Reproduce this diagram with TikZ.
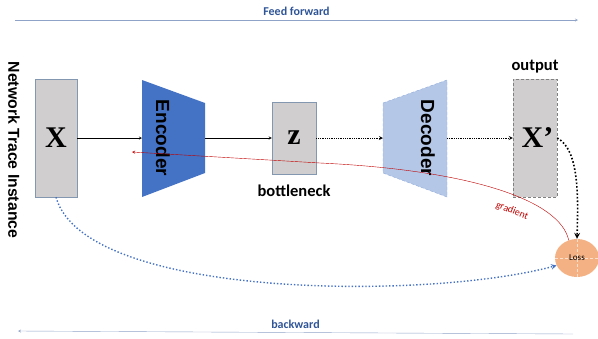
\documentclass[tikz,border=0pt]{standalone}
\usepackage{fontspec}
\setmainfont{Carlito}
\newfontfamily\armfont{Liberation Sans}
\newfontfamily\timesfont{Liberation Serif}
\usetikzlibrary{shapes.geometric}
\definecolor{boxgray}{HTML}{D0CECE}
\definecolor{boxedge}{HTML}{8497B0}
\definecolor{encblue}{HTML}{4472C4}
\definecolor{decblue}{HTML}{B4C7E7}
\definecolor{lossorange}{HTML}{F4B183}
\definecolor{flowtext}{HTML}{2F5597}
\definecolor{flowline}{HTML}{8FA3C8}
\definecolor{gradred}{HTML}{C00000}
\tikzset{
  vecbox/.style={draw=boxedge, fill=boxgray, minimum width=42pt, inner sep=0pt,
    font=\timesfont\bfseries\fontsize{30}{30}\selectfont},
  coderlabel/.style={rotate=-90, font=\armfont\bfseries\fontsize{19}{19}\selectfont},
  sidelabel/.style={font=\bfseries\fontsize{16.5}{16.5}\selectfont},
  flowlabel/.style={font=\bfseries\fontsize{12}{12}\selectfont, text=flowtext},
}
\begin{document}
\begin{tikzpicture}[x=1pt, y=-1pt, >=stealth]
\useasboundingbox (0,0) rectangle (598,338);
% feed forward / backward
\coordinate (ffL) at (15,20);
\coordinate (ffR) at (578,20);
\draw[->, thin, flowline] (ffL) -- (ffR) node[midway, above=1pt, flowlabel] {Feed forward};
\coordinate (bwR) at (573,334);
\coordinate (bwL) at (18,331);
\draw[->, thin, flowline] (bwR) -- (bwL) node[midway, above=0pt, flowlabel] {backward};
% input
\node[rotate=-90, font=\armfont\bfseries\fontsize{15.8}{15.8}\selectfont] (nti) at (14,150) {Network Trace Instance};
\node[vecbox, minimum height=118pt] (X) at (56,138) {X};
% encoder
\fill[encblue] (142,80) -- (205,103) -- (205,173) -- (142,197) -- cycle;
\coordinate (encIn) at (142,138);
\coordinate (encOut) at (205,138);
\coordinate (encBack) at (132,152);
\node[coderlabel] (enc) at (163,138) {Encoder};
% bottleneck
\node[vecbox, minimum width=44pt, minimum height=72pt] (z) at (294,138) {z};
\node[sidelabel] (bn) at (294,191) {bottleneck};
% decoder
\filldraw[fill=decblue, draw=encblue!60, densely dashed] (383,103) -- (447,80) -- (447,197) -- (383,173) -- cycle;
\coordinate (decIn) at (383,138);
\coordinate (decOut) at (447,138);
\node[coderlabel] (dec) at (428,138) {Decoder};
% output
\node[vecbox, draw=gray, densely dashed, minimum width=44pt, minimum height=118pt] (Xp) at (535,138) {\,X’};
\node[sidelabel] (out) at (535,67) {output};
% loss
\node[ellipse, fill=lossorange, minimum width=44pt, minimum height=38pt, inner sep=0pt] (loss) at (577,258) {};
\draw[densely dashed, white!60!lossorange, very thin] (loss.west) -- (loss.east) (loss.north) -- (loss.south);
\node[font=\fontsize{9}{9}\selectfont] (losstxt) at (loss.center) {Loss};
% forward arrows
\draw[->] (X.east) -- (encIn);
\draw[->] (encOut) -- (z.west);
\draw[->, densely dotted, thick] (z.east) -- (decIn);
\draw[->, densely dotted, thick] (decOut) -- (Xp.west);
\draw[->, dotted, line width=1.6pt] (Xp.east) .. controls (580,150) and (578,200) .. (loss.north);
% gradient
\draw[->, gradred] (loss.115) .. controls (560,200) and (470,170) .. (320,163) -- (encBack);
\node[gradred, rotate=-22, font=\fontsize{10}{10}\selectfont] (grad) at (512,211) {gradient};
% input to loss
\draw[->, dotted, line width=1.4pt, encblue] (X.south) .. controls (85,300) and (430,300) .. (loss.200);
\end{tikzpicture}
\end{document}
